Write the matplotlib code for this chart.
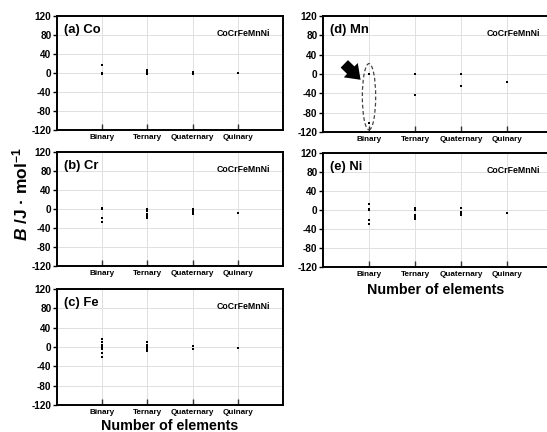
import matplotlib
matplotlib.use("Agg")
import matplotlib.pyplot as plt
from matplotlib.patches import Ellipse, FancyArrowPatch

plt.rcParams["font.family"] = ["Liberation Sans", "DejaVu Sans"]
plt.rcParams["font.weight"] = "bold"
plt.rcParams["mathtext.fontset"] = "custom"
plt.rcParams["mathtext.rm"] = "Liberation Sans:bold"
plt.rcParams["mathtext.it"] = "Liberation Sans:italic:bold"
plt.rcParams["mathtext.bf"] = "Liberation Sans:bold"

CATS = ["Binary", "Ternary", "Quaternary", "Quinary"]
YTICKS = [120, 80, 40, 0, -40, -80, -120]

# B values (J/mol) per number of elements
co_vals = [[16, 0, -2], [7, 2, -2], [3, 1, 0, -2], [1]]
cr_vals = [[3, 0, -18, -27], [0, -5, -10, -15, -18], [0, -4, -8, -11], [-8]]
fe_vals = [[16, 10, 5, 1, -4, -12, -20], [10, 5, 1, -3, -6, -9], [3, -5], [-2]]
mn_vals = [[1, -102], [1, -44], [1, -25], [-17]]
ni_vals = [[13, 2, 0, -20, -30], [5, 0, -10, -14, -18], [4, -5, -8, -10], [-6]]

W, H = 547, 432
fig = plt.figure(figsize=(W / 100, H / 100), dpi=100)
fig.patch.set_facecolor("white")


def make_ax(left, right, top, bottom):
    return fig.add_axes([left / W, 1 - bottom / H, (right - left) / W, (bottom - top) / H])


panels = [
    ("(a) Co", co_vals, make_ax(57, 283, 16, 130)),
    ("(b) Cr", cr_vals, make_ax(57, 283, 152, 266)),
    ("(c) Fe", fe_vals, make_ax(57, 283, 289, 405)),
    ("(d) Mn", mn_vals, make_ax(323, 553, 16, 132)),
    ("(e) Ni", ni_vals, make_ax(323, 553, 153, 267)),
]

for title, vals, ax in panels:
    for i, v in enumerate(vals):
        ax.plot([i + 1] * len(v), v, "s", color="black", ms=2.1, mew=0)
    ax.set_xlim(0, 5)
    ax.set_ylim(-120, 120)
    ax.set_xticks(range(1, 5))
    ax.set_xticklabels(CATS, fontsize=5.9, fontweight="bold")
    ax.set_yticks(YTICKS)
    ax.set_yticklabels([str(t) for t in YTICKS], fontsize=7.2, fontweight="bold")
    ax.tick_params(axis="x", direction="in", length=4, width=1, pad=3, color="#333")
    ax.tick_params(axis="y", direction="out", length=3, width=1, pad=1)
    ax.grid(True, color="#e0e0e0", linewidth=0.7)
    ax.set_axisbelow(True)
    for s in ax.spines.values():
        s.set_linewidth(1.4)
    ax.text(0.03, 0.93, title, transform=ax.transAxes, fontsize=9.4,
            fontweight="bold", va="top", ha="left")
    ax.text(0.945, 0.89, "CoCrFeMnNi", transform=ax.transAxes, fontsize=6.3,
            fontweight="bold", va="top", ha="right")

# highlight in (d)
axd = panels[3][2]
axd.add_patch(Ellipse((1, -47), 0.29, 137, fill=False, linestyle=(0, (3, 2)),
                      linewidth=0.9, edgecolor="#444"))
axd.add_patch(FancyArrowPatch((0.42, 25), (0.86, -16),
                              arrowstyle="simple,head_length=0.55,head_width=0.8,tail_width=0.42",
                              mutation_scale=18, color="black", lw=0))

fig.text(20 / W, 1 - 194 / H, r"$\it{B}$ /J · mol$^{-1}$", rotation=90,
         fontsize=12.5, fontweight="bold", ha="center", va="center")
fig.text(170 / W, 1 - 426 / H, "Number of elements", fontsize=10.3,
         fontweight="bold", ha="center", va="center")
fig.text(436 / W, 1 - 290 / H, "Number of elements", fontsize=10.3,
         fontweight="bold", ha="center", va="center")

fig.savefig("out.png", dpi=100, facecolor="white")
